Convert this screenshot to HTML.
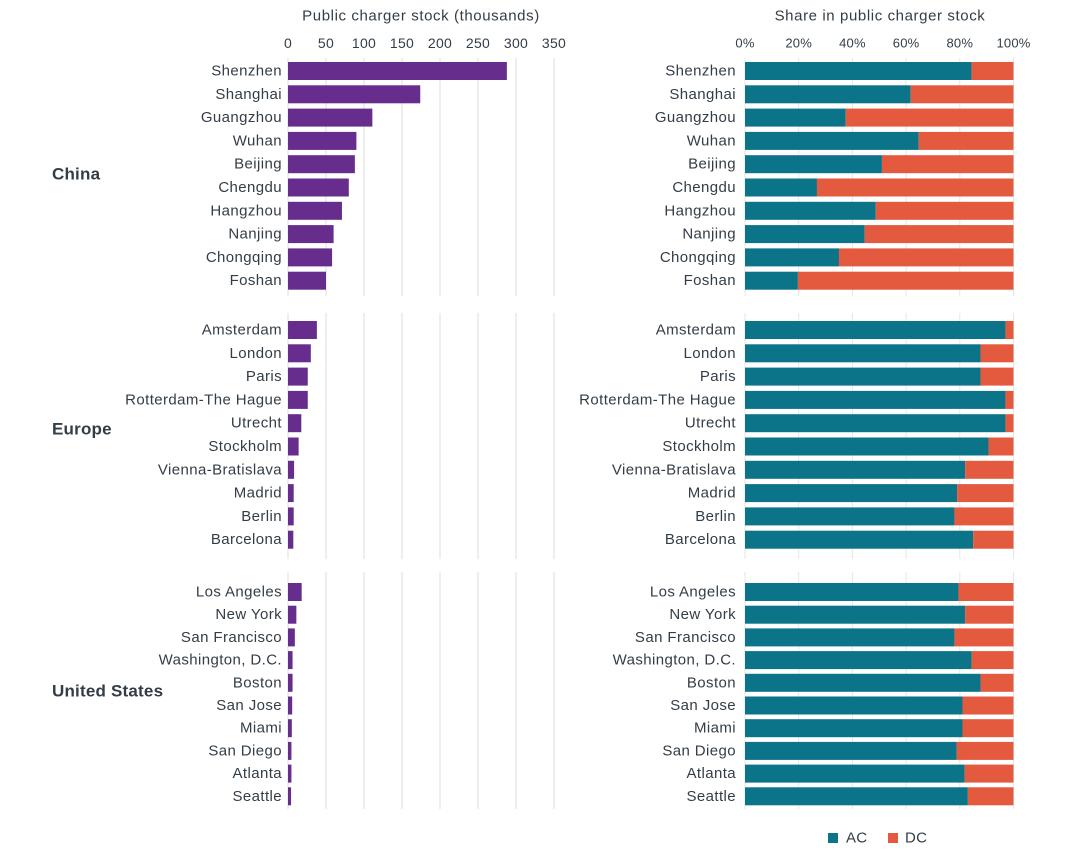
<!DOCTYPE html>
<html><head><meta charset="utf-8">
<style>
body{margin:0;background:#fff;}
svg{display:block;font-family:"Liberation Sans",sans-serif;}
</style></head>
<body>
<svg id="chart" width="1080" height="853" viewBox="0 0 1080 853"></svg>
<script>
const groups = ["China","Europe","United States"];
const chinaCities = ["Shenzhen","Shanghai","Guangzhou","Wuhan","Beijing","Chengdu","Hangzhou","Nanjing","Chongqing","Foshan"];
const europeCities = ["Amsterdam","London","Paris","Rotterdam-The Hague","Utrecht","Stockholm","Vienna-Bratislava","Madrid","Berlin","Barcelona"];
const usCities = ["Los Angeles","New York","San Francisco","Washington, D.C.","Boston","San Jose","Miami","San Diego","Atlanta","Seattle"];
const chinaStock = [288,174,111,90,88,80,71,60,58,50];
const europeStock = [38,30,26,26,17.5,14,8,7.5,7.5,7];
const usStock = [18,11,9,6,6,5.5,5,4.5,4.5,4];
const chinaAC = [84.4,61.7,37.5,64.7,51,26.8,48.7,44.6,35,19.7];
const europeAC = [97,87.7,87.7,97,97,90.7,82,79,78,85];
const usAC = [79.5,82,78,84.4,87.7,81,81,78.8,81.8,83];
const stockTicks = [0,50,100,150,200,250,300,350];
const shareTicks = [0,20,40,60,80,100];

const NS="http://www.w3.org/2000/svg";
const svg=document.getElementById('chart');
function mk(tag,attrs,parent){const e=document.createElementNS(NS,tag);for(const k in attrs)e.setAttribute(k,attrs[k]);(parent||svg).appendChild(e);return e;}
const xS=v=>288+v*0.76;
const xP=v=>745+v*2.685;
const TXT="#333d47";

function txt(x,y,s,anchor,size,weight,name,ls){
  const t=mk('text',{x:x,y:y,'text-anchor':anchor,'font-size':size,'font-weight':weight||'normal',fill:TXT,'dominant-baseline':'central','letter-spacing':ls||0});
  t.textContent=s;
  
  
  return t;
}
txt(421,16,"Public charger stock (thousands)","middle",15,"normal","left-chart-title",0.6);
txt(880,16,"Share in public charger stock","middle",15,"normal","right-chart-title",0.6);
stockTicks.forEach(v=>{txt(xS(v),43,String(v),"middle",14,"normal","stock-tick-label",0.3);});
shareTicks.forEach(v=>{txt(xP(v),43,v+"%","middle",13,"normal","share-tick-label",0.2);});

const panels=[
 {name:"china",label:groups[0],cities:chinaCities,stock:chinaStock,ac:chinaAC,y0:71,step:23.3,gy0:58,gy1:296,ly:174},
 {name:"europe",label:groups[1],cities:europeCities,stock:europeStock,ac:europeAC,y0:330,step:23.3,gy0:313,gy1:559,ly:429},
 {name:"us",label:groups[2],cities:usCities,stock:usStock,ac:usAC,y0:592,step:22.7,gy0:572,gy1:809,ly:691}
];
panels.forEach(p=>{
  stockTicks.forEach(v=>{const l=mk('line',{x1:xS(v),x2:xS(v),y1:p.gy0,y2:p.gy1,stroke:'#dedede','stroke-width':1});
    
    });
  shareTicks.forEach(v=>{const l=mk('line',{x1:xP(v),x2:xP(v),y1:p.gy0,y2:p.gy1,stroke:'#e6e6e6','stroke-width':1});
    
    });
  txt(52,p.ly,p.label,"start",17,"bold","group-label-"+p.name,0.2);
  p.cities.forEach((c,i)=>{
    const y=p.y0+i*p.step;
    txt(282,y,c,"end",15,"normal","city-label",0.4);
    txt(736,y,c,"end",15,"normal","city-label-right",0.4);
    const b=mk('rect',{x:xS(0),y:y-9,width:xS(p.stock[i])-xS(0),height:18,fill:'#662d8c'});
    
    
    const a=mk('rect',{x:xP(0),y:y-9,width:xP(p.ac[i])-xP(0),height:18,fill:'#0b7489'});
    
    
    const d=mk('rect',{x:xP(p.ac[i]),y:y-9,width:xP(100)-xP(p.ac[i]),height:18,fill:'#e35a3f'});
    
    
  });
});
const la=mk('rect',{x:828,y:833,width:10,height:10,fill:'#0b7489'});


txt(846,838,"AC","start",15,"normal","legend-ac-label",0.3);
const ld=mk('rect',{x:888,y:833,width:10,height:10,fill:'#e35a3f'});


txt(905,838,"DC","start",15,"normal","legend-dc-label",0.3);
</script>
</body></html>
